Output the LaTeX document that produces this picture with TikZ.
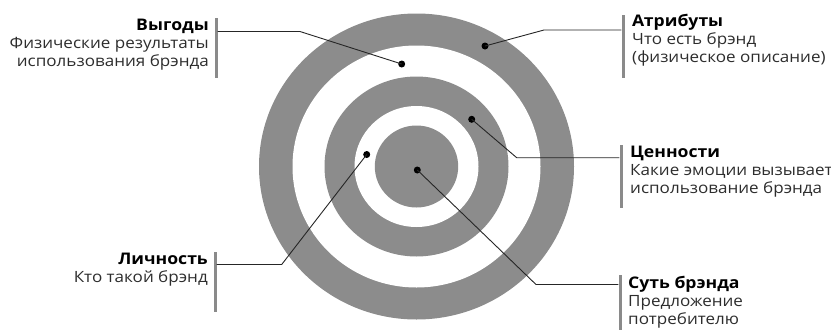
\documentclass[tikz,border=0pt]{standalone}
\usepackage{fontspec}
\setmainfont{Open Sans}[FakeStretch=1.1]
\usetikzlibrary{positioning}
\definecolor{ringGray}{RGB}{140,140,140}
\definecolor{barGray}{RGB}{138,138,138}
\definecolor{txtGray}{RGB}{45,45,45}
\newcommand{\lbltitle}[1]{\textcolor{black}{\fontsize{16}{18}\selectfont\bfseries #1}}

\begin{document}
\begin{tikzpicture}[x=1pt,y=-1pt,
    ring/.style={fill=ringGray},
    dot/.style={circle, fill=black, inner sep=0pt, minimum size=7pt},
    bar/.style={rectangle, fill=barGray, inner sep=0pt, minimum width=3pt, minimum height=60pt},
    leader/.style={draw=black!85, line width=0.9pt},
    lbl/.style={inner sep=0pt, font=\fontsize{15.5}{18}\selectfont, text=txtGray}]
\useasboundingbox (0,0) rectangle (831,330);
% target rings
\coordinate (c) at (416.5,166.5);
\fill[ring] (c) ellipse[x radius=157.5pt, y radius=153pt];
\fill[white] (c) ellipse[x radius=124pt, y radius=121pt];
\fill[ring] (c) ellipse[x radius=92pt, y radius=90pt];
\fill[white] (c) ellipse[x radius=62pt, y radius=60.5pt];
\fill[ring] (c) ellipse[x radius=41.7pt, y radius=41pt];

% dots
\node[dot] (attr-dot) at (485,46) {};
\node[dot] (ben-dot) at (401.7,64) {};
\node[dot] (val-dot) at (471.7,119.3) {};
\node[dot] (pers-dot) at (366.7,154.5) {};
\node[dot] (core-dot) at (417.3,170) {};

% bars
\node[bar] (ben-bar) at (216,47.5) {};
\node[bar, minimum height=63pt] (attr-bar) at (623,46.5) {};
\node[bar, minimum height=63pt] (val-bar) at (621,176.5) {};
\node[bar] (pers-bar) at (215,282) {};
\node[bar, minimum height=55pt] (core-bar) at (620,302.5) {};

% labels (base = last line)
\node[lbl, align=right, anchor=base east] (ben) at (209,66)
  {\lbltitle{Выгоды}\\Физические результаты\\использования брэнда};
\node[lbl, align=left, anchor=base west] (attr) at (632,62)
  {\lbltitle{Атрибуты}\\Что есть брэнд\\(физическое описание)};
\node[lbl, align=left, anchor=base west] (val) at (630,193)
  {\lbltitle{Ценности}\\Какие эмоции вызывает\\использование брэнда};
\node[lbl, align=right, anchor=base east] (pers) at (208,282)
  {\lbltitle{Личность}\\Кто такой брэнд};
\node[lbl, align=left, anchor=base west] (core) at (628,324)
  {\lbltitle{Суть брэнда}\\Предложение\\потребителю};

% leaders
\coordinate (ben-elb) at (300,31.5);
\coordinate (attr-elb) at (544,30);
\coordinate (val-elb) at (516.7,157.7);
\coordinate (pers-elb) at (281.7,264.5);
\coordinate (core-elb) at (536,284.5);
\draw[leader] (ben-dot.center) -- (ben-elb) -- (ben-elb -| ben-bar.east);
\draw[leader] (attr-dot.center) -- (attr-elb) -- (attr-elb -| attr-bar.west);
\draw[leader] (val-dot.center) -- (val-elb) -- (val-elb -| val-bar.west);
\draw[leader] (pers-dot.center) -- (pers-elb) -- (pers-elb -| pers-bar.east);
\draw[leader] (core-dot.center) -- (core-elb) -- (core-elb -| core-bar.west);
\end{tikzpicture}
\end{document}
